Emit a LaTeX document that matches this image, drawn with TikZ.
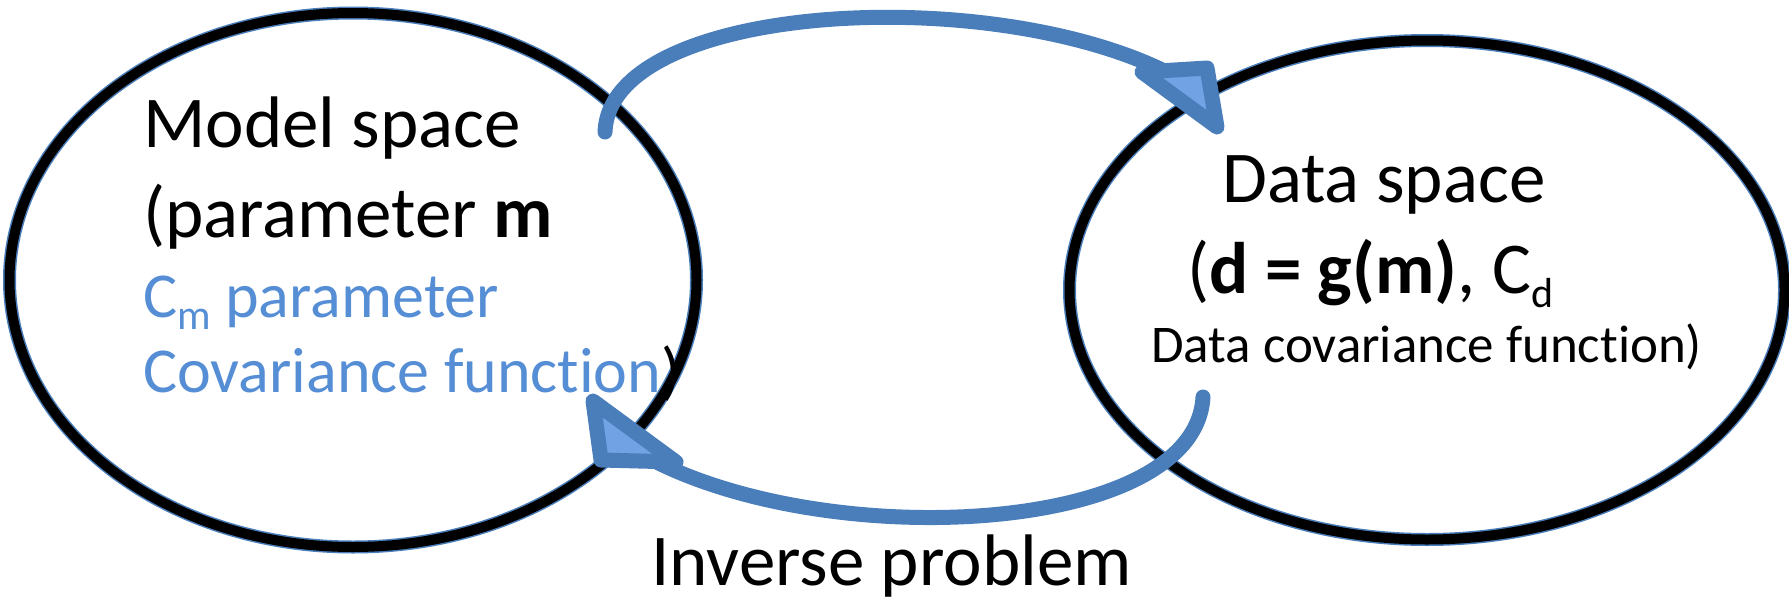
\documentclass[tikz,border=0pt]{standalone}
\usepackage{fontspec}
\setmainfont{Carlito}[Ligatures=NoCommon]
\usepackage{xcolor}
\usetikzlibrary{shapes,arrows,positioning,calc}

\definecolor{arcblue}{RGB}{74,126,187}
\definecolor{headfill}{RGB}{112,162,228}
\definecolor{txtblue}{RGB}{85,142,213}
\newcommand{\bigtxt}{\fontsize{73}{80}\selectfont}
\newcommand{\midtxt}{\fontsize{64}{70}\selectfont}
\newcommand{\smalltxt}{\fontsize{53}{58}\selectfont}
\newcommand{\lowsub}[1]{\raisebox{-0.2em}{\fontsize{42}{42}\selectfont #1}}

\begin{document}
\begin{tikzpicture}[x=1pt, y=-1pt, every node/.style={inner sep=0pt},
    ring/.style={ellipse, draw=arcblue, double=black, line width=1.5pt, double distance=10pt},
    arc/.style={draw=arcblue, line width=15pt, line cap=round},
    head/.style={draw=arcblue, fill=headfill, line width=15pt, line join=round}]
            \useasboundingbox (0,0) rectangle (1789,600);
            % the two spaces
            \node[ring, minimum width=687pt, minimum height=534pt] (model) at (353,280) {};
            \node[ring, minimum width=715pt, minimum height=499pt] (data) at (1427,290) {};
            % forward arc
            \coordinate (fwdstart) at (605,132);
            \coordinate (fwdend) at (1185,82);
            \draw[arc] (fwdstart) .. controls (610,0) and (1010,-20) .. (fwdend);
            \filldraw[head] (1142,72) -- (1207,68) -- (1217,127) -- cycle;
            % inverse arc
            \coordinate (invstart) at (1203,397);
            \coordinate (invend) at (628,446);
            \draw[arc] (invstart) .. controls (1195,540) and (800,555) .. (invend);
            \filldraw[head] (593,401) -- (601,460) -- (676,462) -- cycle;
            % texts
            \node[anchor=base west, font=\bigtxt] (mtitle) at (143,147) {Model space};
            \node[anchor=base west, font=\bigtxt] (mpar) at (143,237) {(parameter \textbf{m}};
            \node[anchor=base west, font=\midtxt, text=txtblue] (mcov) at (143,317) {C\lowsub{m} parameter};
            \node[anchor=base west, font=\midtxt] (mfun) at (143,392) {\textcolor{txtblue}{Covariance function})};
            \node[anchor=base west, font=\bigtxt] (dtitle) at (1222,202) {Data space};
            \node[anchor=base west, font=\bigtxt] (dpar) at (1187,293) {(\textbf{d = g(m)}, C\lowsub{d}};
            \node[anchor=base west, font=\smalltxt] (dcov) at (1151,362) {Data covariance function)};
            \node[anchor=base west, font=\bigtxt] (inv) at (651,585) {Inverse problem};
        \end{tikzpicture}
\end{document}
